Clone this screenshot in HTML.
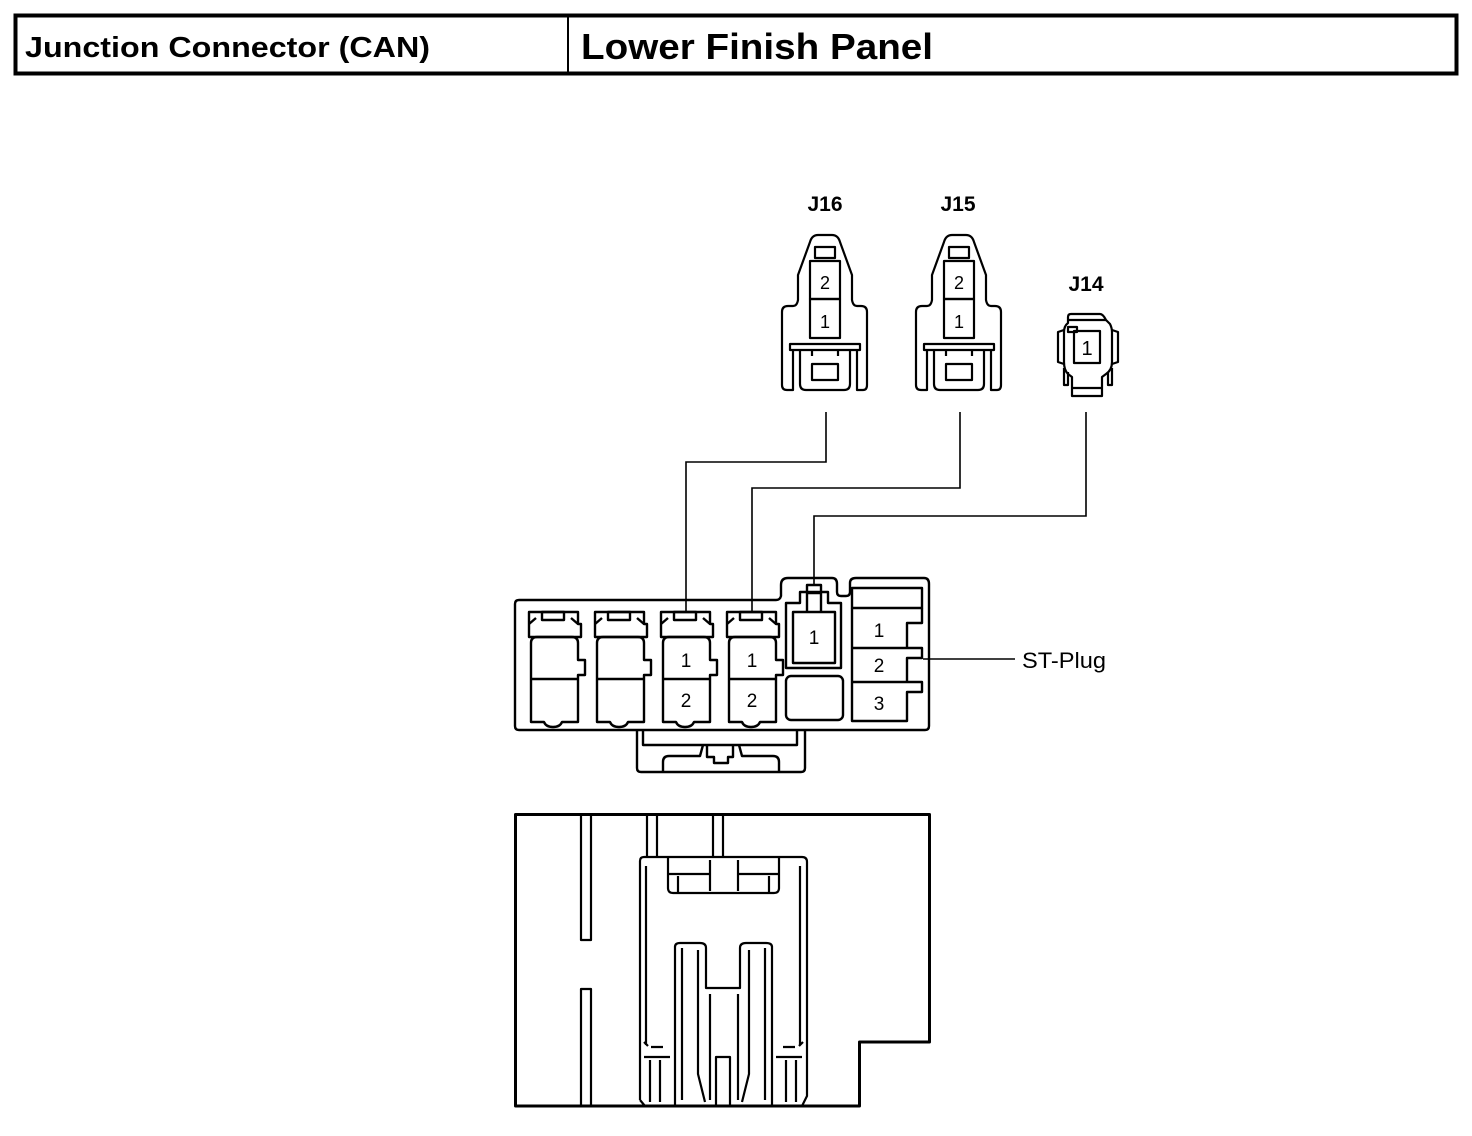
<!DOCTYPE html>
<html><head><meta charset="utf-8"><style>
html,body{margin:0;padding:0;background:#fff;}
svg{display:block;}
text{font-family:"Liberation Sans",Arial,sans-serif;fill:#000;}
</style></head><body>
<svg width="1472" height="1136" viewBox="0 0 1472 1136" xmlns="http://www.w3.org/2000/svg">
<!-- header -->
<rect x="15.5" y="15.5" width="1441" height="58" fill="none" stroke="#000" stroke-width="4"/>
<line x1="568" y1="16" x2="568" y2="73" stroke="#000" stroke-width="2"/>
<text x="25" y="57" font-size="29" font-weight="bold" textLength="405" lengthAdjust="spacingAndGlyphs">Junction Connector (CAN)</text>
<text x="581" y="59" font-size="36" font-weight="bold" textLength="352" lengthAdjust="spacingAndGlyphs">Lower Finish Panel</text>

<!-- labels -->
<text x="825" y="211" font-size="21" font-weight="bold" text-anchor="middle">J16</text>
<text x="958" y="211" font-size="21" font-weight="bold" text-anchor="middle">J15</text>
<text x="1086" y="291" font-size="21" font-weight="bold" text-anchor="middle">J14</text>

<g fill="none" stroke="#000" stroke-width="2.2" stroke-linejoin="round">
<!-- J16 -->
<g id="j16">
<path d="M793,350 L793,390 L787,390 Q782,390 782,385 L782,312 Q782,306 788,306 L793,306 Q797,306 798,300 L798,275 L810,242 Q812,235 818,235 L832,235 Q838,235 840,242 L852,275 L852,300 Q853,306 857,306 L861,306 Q867,306 867,312 L867,385 Q867,390 863,390 L857,390 L857,350"/>
<path d="M790,350 L790,344 L860,344 L860,350 Z"/>
<path d="M800,350 L800,384 Q800,390 806,390 L844,390 Q850,390 850,384 L850,350"/>
<line x1="812" y1="350" x2="812" y2="356"/><line x1="838" y1="350" x2="838" y2="356"/>
<rect x="812" y="364" width="26" height="16"/>
<rect x="815" y="247" width="20" height="11"/>
<rect x="810" y="261" width="30" height="38"/>
<rect x="810" y="299" width="30" height="39"/>
</g>
<use href="#j16" transform="translate(134,0)"/>
<!-- J14 -->
<path d="M1068,323 L1068,317 Q1068,314 1071,314 L1100,314 Q1103,314 1106,320 L1110,324 Q1112,328 1112,332 L1112,362 Q1112,370 1106,374 L1102,377 L1102,396 L1072,396 L1072,377 L1068,374 Q1064,370 1064,362 L1064,332 Q1064,326 1068,323 Z"/>
<path d="M1064,330 L1058,332 L1058,362 L1064,364 M1112,330 L1118,332 L1118,362 L1112,364"/>
<path d="M1064,368 L1064,385 L1068,385 L1068,372 M1112,368 L1112,385 L1108,385 L1108,372"/>
<rect x="1074" y="331" width="26" height="32"/>
<rect x="1068" y="327" width="9" height="5"/>
<line x1="1072" y1="388" x2="1102" y2="388"/>
<line x1="1068" y1="320" x2="1106" y2="320"/>
</g>
<g font-size="18">
<text x="825" y="289" text-anchor="middle">2</text><text x="825" y="328" text-anchor="middle">1</text>
<text x="959" y="289" text-anchor="middle">2</text><text x="959" y="328" text-anchor="middle">1</text>
<text x="1087" y="355" text-anchor="middle" font-size="20">1</text>
</g>

<!-- wires -->
<g fill="none" stroke="#000" stroke-width="1.6">
<polyline points="826,412 826,462 686,462 686,613"/>
<polyline points="960,412 960,488 752,488 752,613"/>
<polyline points="1086,412 1086,516 814,516 814,585"/>
<line x1="923" y1="659" x2="1015" y2="659"/>
</g>
<text x="1022" y="668" font-size="22" textLength="84" lengthAdjust="spacingAndGlyphs">ST-Plug</text>

<!-- main connector -->
<g fill="none" stroke="#000" stroke-width="2.4" stroke-linejoin="round">
<path d="M519,600 L776,600 Q780,600 781,596 L781,585 Q781,578 788,578 L832,578 Q837,578 837,584 L837,592 Q837,596 841,596 L846,596 Q850,596 850,592 L850,583 Q850,578 856,578 L924,578 Q929,578 929,584 L929,726 Q929,730 925,730 L519,730 Q515,730 515,726 L515,604 Q515,600 519,600 Z"/>
<g id="slot">
<path d="M529,612 H578 V624 H581 V637 H529 V624 H529 Z"/>
<rect x="542" y="612" width="22" height="8"/>
<path d="M529,624 L536,618 M578,624 L571,618"/>
<path d="M531,643 Q531,637 537,637 L572,637 Q578,637 578,643 L578,660 L585,660 L585,675 L578,675 L578,722 L562,722 Q560,727 553,727 Q546,727 544,722 L531,722 Z"/>
<line x1="531" y1="679" x2="578" y2="679"/>
</g>
<use href="#slot" transform="translate(66,0)"/>
<use href="#slot" transform="translate(132,0)"/>
<use href="#slot" transform="translate(198,0)"/>
<!-- J14 slot -->
<path d="M800,592 H828 V603 H841 V668 H786 V603 H800 Z"/>
<rect x="793" y="612" width="42" height="51"/>
<path d="M807,612 V585 H821 V612 M807,593 H821"/>
<rect x="786" y="676" width="57" height="44" rx="5"/>
<!-- ST plug -->
<path d="M852,588 H922 V608 H852 Z"/>
<path d="M852,608 V721 H907 V692 H922 V682 H907 V658 H922 V648 H907 V623 H922 V608 M852,648 H907 M852,682 H907"/>
<!-- bottom tab -->
<path d="M637,730 V768 Q637,772 641,772 L801,772 Q805,772 805,768 V730"/>
<path d="M643,730 V745 H797 V730"/>
<path d="M663,772 V762 Q663,756 669,756 L700,756 L703,745 M779,772 V762 Q779,756 773,756 L742,756 L739,745"/>
<path d="M707,745 V757 H714 V763 H728 V757 H733 V745"/>
</g>
<g font-size="19">
<text x="686" y="667" text-anchor="middle">1</text><text x="686" y="707" text-anchor="middle">2</text>
<text x="752" y="667" text-anchor="middle">1</text><text x="752" y="707" text-anchor="middle">2</text>
<text x="814" y="644" text-anchor="middle">1</text>
<text x="879" y="637" text-anchor="middle">1</text>
<text x="879" y="672" text-anchor="middle">2</text>
<text x="879" y="710" text-anchor="middle">3</text>
</g>

<!-- bottom view -->
<g fill="none" stroke="#000" stroke-width="2.2" stroke-linejoin="round">
<path d="M515.5,814.5 H929.5 V1042 H859.5 V1106 H515.5 Z" stroke-width="3"/>
<path d="M581,814 V940 H591 V814 M581,1106 V989 H591 V1106"/>
<path d="M647,814 V857 M657,814 V857 M713,814 V857 M723,814 V857"/>
<path d="M640,1100 V861 Q640,857 644,857 L802,857 Q807,857 807,862 V1096 L802,1106 M640,1100 L645,1106"/>
<path d="M668,857 V888 Q668,893 673,893 L774,893 Q779,893 779,888 V857 M668,874 H709 M738,874 H779 M710,860 V891 M738,860 V891 M678,876 V893 M769,876 V893"/>
<path d="M646,866 V1045 M800,866 V1045"/>
<path d="M675,1106 V947 Q675,943 680,943 L700,943 Q706,943 706,948 V988 H740 V948 Q740,943 746,943 L766,943 Q772,943 772,947 V1106"/>
<path d="M682,948 V1100 M698,950 V1074 L705,1102 M710,994 V1100 M738,994 V1100 M765,948 V1100 M749,950 V1074 L742,1102"/>
<path d="M716,1106 V1057 H730 V1106"/>
<path d="M644,1057 H670 M651,1047 H663 M650,1060 V1102 M660,1060 V1102 M644,1042 L648,1046"/>
<path d="M776,1057 H802 M783,1047 H795 M786,1060 V1102 M796,1060 V1102 M803,1042 L799,1046"/>
</g>
</svg>
</body></html>
